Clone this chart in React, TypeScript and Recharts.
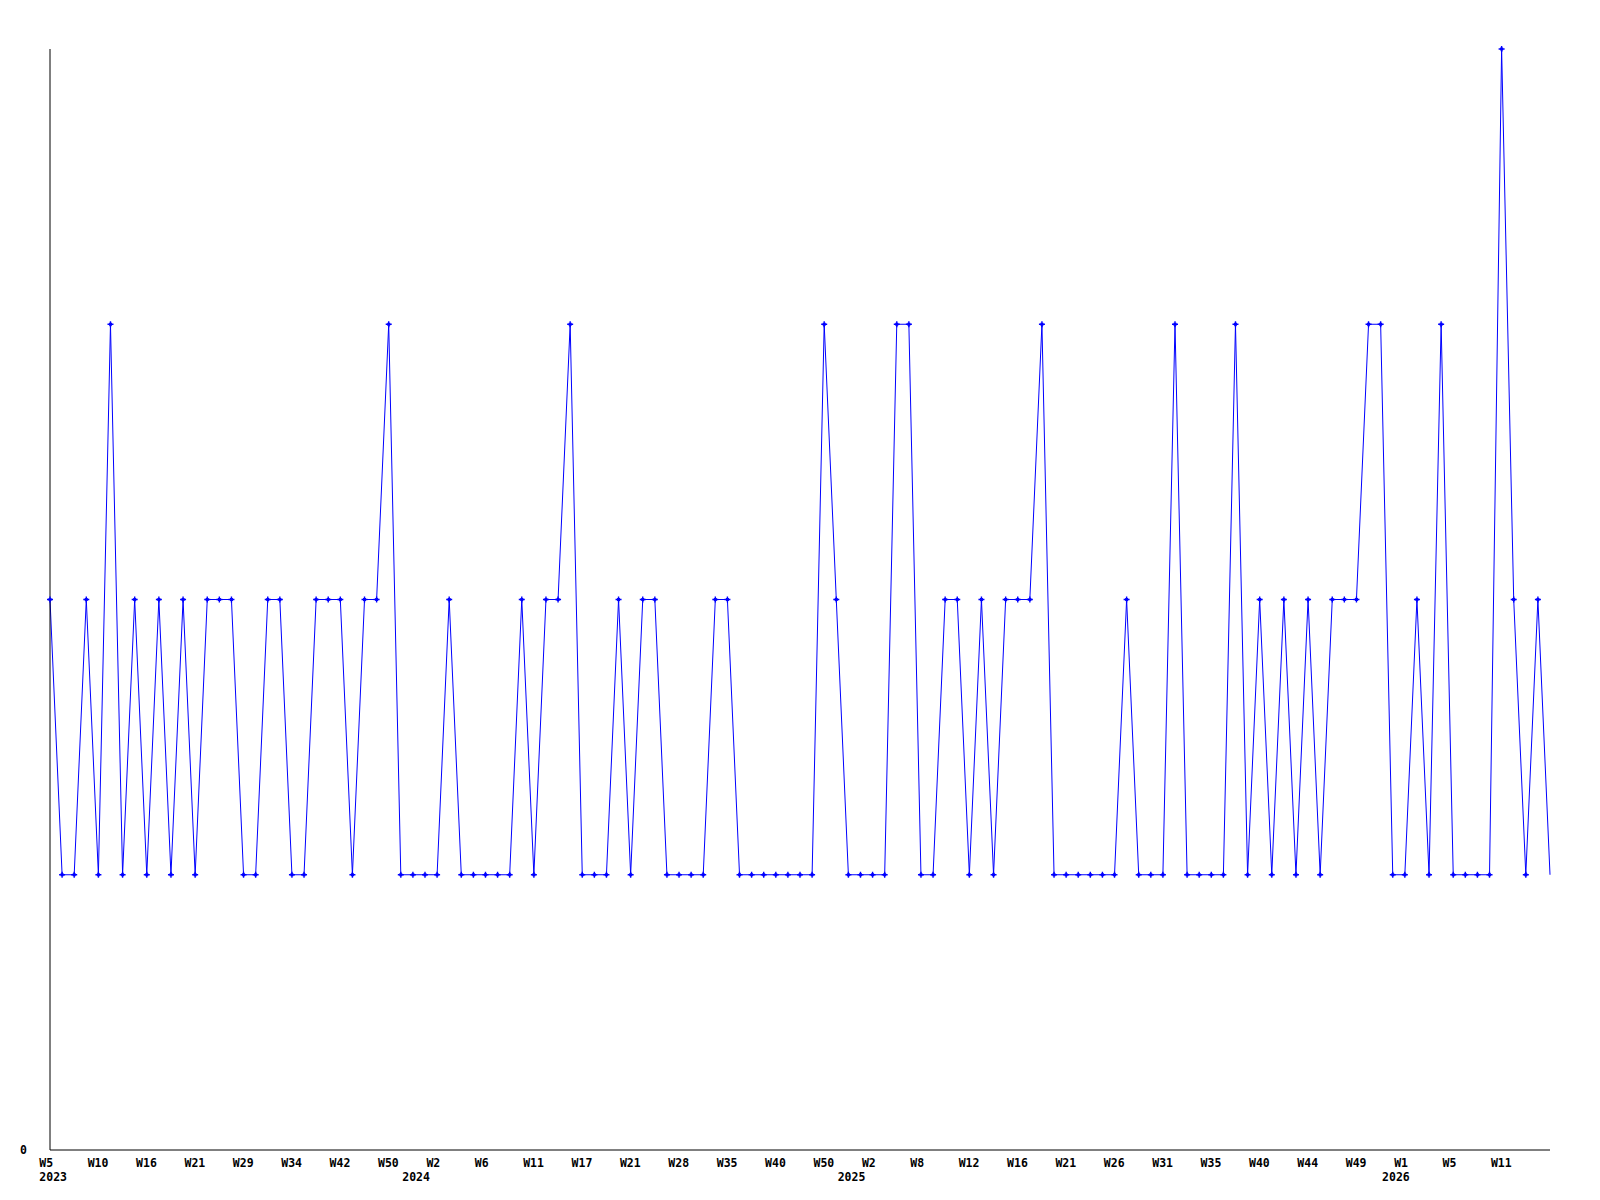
import { LineChart, Line, XAxis, YAxis } from 'recharts';

// ── Data ─────────────────────────────────────────────────────────────

// ISO week numbers that have a data point, grouped by year
const weeks2023 = [5, 6, 7, 8, 10, 11, 13, 14, 16, 17, 18, 20, 21, 23, 25, 27, 29, 30, 31, 33, 34, 36, 38, 40, 42, 44, 46, 48, 50, 51, 52];
const weeks2024 = [1, 2, 3, 4, 5, 6, 7, 8, 10, 11, 12, 14, 15, 17, 18, 19, 20, 21, 23, 25, 26, 28, 30, 32, 34, 35, 36, 38, 39, 40, 43, 45, 48, 50, 51, 52];
const weeks2025 = [1, 2, 4, 5, 6, 8, 9, 10, 11, 12, 13, 14, 15, 16, 17, 18, 20, 21, 22, 23, 25, 26, 27, 29, 30, 31, 32, 33, 34, 35, 36, 37, 39, 40, 41, 42, 43, 44, 45, 47, 48, 49, 50, 51, 52];
const weeks2026 = [1, 2, 3, 4, 5, 7, 8, 9, 11, 12, 13, 14, 15];

const counts = [
  2, 1, 1, 2, 1, 3, 1, 2, 1, 2, 1, 2, 1, 2, 2, 2, 1, 1, 2, 2,
  1, 1, 2, 2, 2, 1, 2, 2, 3, 1, 1, 1, 1, 2, 1, 1, 1, 1, 1, 2,
  1, 2, 2, 3, 1, 1, 1, 2, 1, 2, 2, 1, 1, 1, 1, 2, 2, 1, 1, 1,
  1, 1, 1, 1, 3, 2, 1, 1, 1, 1, 3, 3, 1, 1, 2, 2, 1, 2, 1, 2,
  2, 2, 3, 1, 1, 1, 1, 1, 1, 2, 1, 1, 1, 3, 1, 1, 1, 1, 3, 1,
  2, 1, 2, 1, 2, 1, 2, 2, 2, 3, 3, 1, 1, 2, 1, 3, 1, 1, 1, 1,
  4, 2, 1, 2, 1,
];

// year captions under the axis, keyed by category
const yearMarks = [
  { at: '2023-W5', text: '2023' },
  { at: '2023-W52', text: '2024' },
  { at: '2024-W52', text: '2025' },
  { at: '2025-W52', text: '2026' },
];

const yTicks = [0];
const labelEvery = 4;

const categories = [
  ...weeks2023.map((w) => `2023-W${w}`),
  ...weeks2024.map((w) => `2024-W${w}`),
  ...weeks2025.map((w) => `2025-W${w}`),
  ...weeks2026.map((w) => `2026-W${w}`),
];

const data = categories.map((key, i) => ({ key, value: counts[i] }));

// ── Styling ──────────────────────────────────────────────────────────

const FONT = '"DejaVu Sans Mono", "Liberation Mono", monospace';
const BLUE = '#0000ff';

function WeekTick({ x, y, payload, index }: any) {
  const key: string = payload.value;
  const showWeek = index % labelEvery === 0 && index < categories.length - 1;
  const year = yearMarks.find((m) => m.at === key);
  return (
    <g>
      {showWeek && (
        <text x={x - 10.7} y={y + 17} textAnchor="start" fontFamily={FONT} fontWeight="bold" fontSize={11.5} fill="#000">
          {key.split('-')[1]}
        </text>
      )}
      {year && (
        <text x={x - 10.7} y={y + 31} textAnchor="start" fontFamily={FONT} fontWeight="bold" fontSize={11.5} fill="#000">
          {year.text}
        </text>
      )}
    </g>
  );
}

function ZeroTick({ y, payload }: any) {
  return (
    <text x={20} y={y + 4} textAnchor="start" fontFamily={FONT} fontWeight="bold" fontSize={11.5} fill="#000">
      {payload.value}
    </text>
  );
}

function CrossDot({ cx, cy, index }: any) {
  if (index === data.length - 1) return <g key={index} />;
  return (
    <g key={index}>
      <path d={`M${cx - 3},${cy}H${cx + 3}M${cx},${cy - 3}V${cy + 3}`} stroke={BLUE} strokeWidth={1.4} />
      <rect x={cx - 1.5} y={cy - 1.5} width={3} height={3} fill={BLUE} />
    </g>
  );
}

export default function App() {
  return (
    <div style={{ position: 'absolute', left: 0, top: 0, background: '#fff' }}>
      <LineChart width={1600} height={1200} data={data} margin={{ top: 49, right: 50, bottom: 0, left: 0 }}>
        <XAxis
          dataKey="key"
          interval={0}
          height={50}
          tickSize={0}
          tickMargin={0}
          tickLine={false}
          axisLine={{ stroke: '#000', strokeWidth: 1 }}
          tick={<WeekTick />}
        />
        <YAxis
          width={50}
          domain={[0, 4]}
          ticks={yTicks}
          tickSize={0}
          tickMargin={0}
          tickLine={false}
          axisLine={{ stroke: '#000', strokeWidth: 1 }}
          tick={<ZeroTick />}
        />
        <Line
          type="linear"
          dataKey="value"
          stroke={BLUE}
          strokeWidth={1}
          dot={<CrossDot />}
          activeDot={false}
          isAnimationActive={false}
        />
      </LineChart>
    </div>
  );
}
